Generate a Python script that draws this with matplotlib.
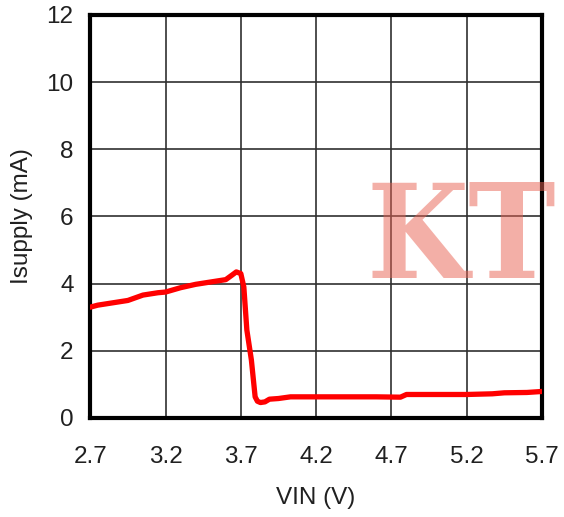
import matplotlib
matplotlib.use('Agg')
import matplotlib.pyplot as plt
import numpy as np

# Supply current vs input voltage
vin = [2.70, 2.75, 2.85, 2.95, 3.00, 3.05, 3.15, 3.20, 3.30, 3.40, 3.50, 3.60,
       3.64, 3.67, 3.70, 3.72, 3.74, 3.77, 3.795, 3.81, 3.83, 3.86, 3.89, 3.95,
       4.03, 4.30, 4.60, 4.76, 4.80, 5.00, 5.20, 5.37, 5.45, 5.60, 5.70]
isupply = [3.30, 3.36, 3.43, 3.50, 3.58, 3.66, 3.73, 3.75, 3.88, 3.98, 4.05, 4.12,
           4.25, 4.35, 4.30, 3.90, 2.62, 1.73, 0.63, 0.50, 0.46, 0.48, 0.56, 0.58,
           0.63, 0.63, 0.63, 0.62, 0.70, 0.70, 0.70, 0.72, 0.75, 0.76, 0.79]

x_ticks = [2.7, 3.2, 3.7, 4.2, 4.7, 5.2, 5.7]
y_ticks = [0, 2, 4, 6, 8, 10, 12]

plt.rcParams['font.family'] = ['Liberation Sans', 'DejaVu Sans']

fig = plt.figure(figsize=(5.64, 5.17), dpi=100)
ax = fig.add_axes([0.160, 0.1915, 0.801, 0.7795])

ax.plot(vin, isupply, color='#ff0000', lw=3.8, solid_capstyle='round',
        solid_joinstyle='round', zorder=3)

ax.set_xlim(2.7, 5.7)
ax.set_ylim(0, 12)
ax.set_xticks(x_ticks)
ax.set_xticklabels([str(t) for t in x_ticks])
ax.set_yticks(y_ticks)
ax.tick_params(length=0, labelsize=17.5, colors='#202020')
ax.tick_params(axis='x', pad=20)
ax.tick_params(axis='y', pad=12)
ax.grid(True, color='#303030', lw=1.2)
ax.set_axisbelow(True)
for sp in ax.spines.values():
    sp.set_linewidth(3)
    sp.set_color('black')

ax.set_xlabel('VIN (V)', fontsize=17.5, labelpad=14, color='#202020')
ax.set_ylabel('Isupply (mA)', fontsize=17.5, labelpad=10, color='#202020')

# watermark over the plot
fig.text(0.818, 0.532, 'KT', fontsize=94, family='DejaVu Serif', weight='bold',
         stretch='condensed', color=(233/255, 97/255, 81/255), alpha=0.5,
         ha='center', va='center', zorder=10)

fig.savefig('out.png', dpi=100)
